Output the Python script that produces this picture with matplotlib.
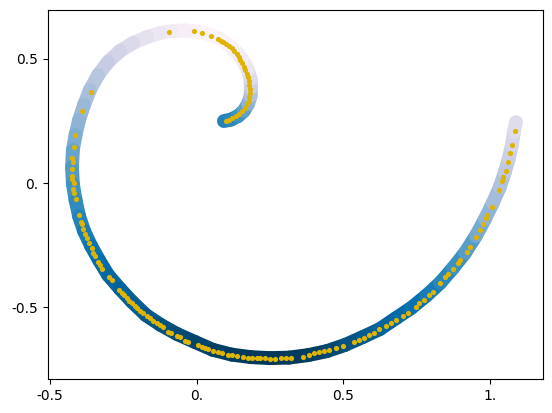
import numpy as np
import matplotlib
matplotlib.use("Agg")
import matplotlib.pyplot as plt
from matplotlib.collections import LineCollection

# centre of the thick band
path_x = [0.093, 0.117, 0.141, 0.161, 0.175, 0.184, 0.185, 0.184, 0.175, 0.158,
          0.138, 0.110, 0.080, 0.042, 0.001, -0.040, -0.084, -0.125, -0.169, -0.217,
          -0.261, -0.302, -0.336, -0.364, -0.384, -0.401, -0.413, -0.422, -0.425, -0.422,
          -0.413, -0.401, -0.384, -0.360, -0.333, -0.302, -0.261, -0.220, -0.173, -0.122,
          -0.067, -0.006, 0.056, 0.120, 0.185, 0.250, 0.315, 0.380, 0.444, 0.506,
          0.567, 0.625, 0.680, 0.731, 0.782, 0.830, 0.874, 0.915, 0.952, 0.983,
          1.010, 1.034, 1.051, 1.065, 1.075, 1.082, 1.089]
path_y = [0.249, 0.255, 0.269, 0.290, 0.318, 0.350, 0.382, 0.418, 0.454, 0.491,
          0.523, 0.555, 0.579, 0.599, 0.609, 0.613, 0.611, 0.603, 0.587, 0.563,
          0.531, 0.487, 0.434, 0.374, 0.314, 0.253, 0.193, 0.133, 0.064, -0.004,
          -0.068, -0.133, -0.193, -0.253, -0.310, -0.370, -0.426, -0.478, -0.531, -0.571,
          -0.607, -0.639, -0.671, -0.690, -0.700, -0.704, -0.702, -0.692, -0.676, -0.651,
          -0.619, -0.587, -0.543, -0.503, -0.454, -0.402, -0.342, -0.281, -0.213, -0.145,
          -0.080, -0.016, 0.044, 0.101, 0.153, 0.205, 0.245]
# colour value along the band (PuBu scale, 0 = lightest)
path_c = [0.68, 0.67, 0.64, 0.58, 0.50, 0.38, 0.30, 0.23, 0.16, 0.11,
          0.07, 0.05, 0.03, 0.03, 0.04, 0.06, 0.08, 0.11, 0.14, 0.18,
          0.22, 0.26, 0.30, 0.35, 0.39, 0.42, 0.45, 0.50, 0.55, 0.59,
          0.62, 0.66, 0.69, 0.72, 0.75, 0.78, 0.81, 0.84, 0.87, 0.90,
          0.92, 0.94, 0.96, 0.98, 0.99, 1.00, 0.99, 0.98, 0.96, 0.92,
          0.88, 0.84, 0.80, 0.76, 0.72, 0.68, 0.64, 0.59, 0.53, 0.46,
          0.40, 0.36, 0.32, 0.28, 0.24, 0.20, 0.17]

# yellow sample points
pts_x = [-0.094, -0.008, 0.019, 0.050, 0.074, 0.083, 0.091, 0.100, 0.110, 0.119,
         0.127, 0.136, 0.143, 0.149, 0.156, 0.161, 0.166, 0.172, 0.175, 0.178,
         0.180, 0.182, 0.182, 0.180, 0.177, 0.172, 0.165, 0.156, 0.146, 0.134,
         0.122, 0.110, 0.100,
         -0.359, -0.390, -0.414, -0.418, -0.424, -0.423, -0.424, -0.424, -0.424, -0.419,
         -0.421, -0.417, -0.412, -0.400, -0.394, -0.392, -0.387, -0.381, -0.375, -0.367,
         -0.358, -0.352, -0.347, -0.335, -0.330, -0.322,
         -0.298, -0.290, -0.264, -0.256, -0.248, -0.239, -0.230, -0.222, -0.210, -0.202,
         -0.193, -0.184, -0.170, -0.159, -0.148, -0.136, -0.125, -0.116, -0.097, -0.089,
         -0.068, -0.057, -0.040, -0.029, 0.006, 0.017, 0.028, 0.040, 0.057, 0.074,
         0.085, 0.108, 0.119, 0.138, 0.159, 0.176, 0.188, 0.205, 0.216, 0.233,
         0.250, 0.267,
         0.287, 0.305, 0.322, 0.361, 0.384, 0.401, 0.418, 0.435, 0.452, 0.475,
         0.498, 0.537, 0.554, 0.571, 0.589, 0.606, 0.623, 0.645, 0.662, 0.680,
         0.702, 0.719, 0.748, 0.759, 0.776, 0.793, 0.805,
         0.830, 0.847, 0.858, 0.873, 0.890, 0.898, 0.923, 0.932, 0.952, 0.966,
         0.977, 0.986, 0.991, 1.006, 1.031, 1.042, 1.045, 1.054, 1.062, 1.070,
         1.076, 1.085]
pts_y = [0.607, 0.610, 0.602, 0.591, 0.579, 0.571, 0.565, 0.559, 0.551, 0.541,
         0.531, 0.519, 0.507, 0.495, 0.483, 0.468, 0.454, 0.440, 0.426, 0.410,
         0.394, 0.378, 0.362, 0.346, 0.330, 0.316, 0.302, 0.290, 0.279, 0.269,
         0.261, 0.255, 0.249,
         0.365, 0.290, 0.192, 0.146, 0.099, 0.083, 0.055, 0.029, 0.016, -0.001,
         -0.025, -0.039, -0.066, -0.129, -0.156, -0.166, -0.186, -0.206, -0.222, -0.242,
         -0.263, -0.280, -0.294, -0.316, -0.330, -0.347,
         -0.379, -0.390, -0.430, -0.441, -0.452, -0.464, -0.473, -0.484, -0.495, -0.504,
         -0.513, -0.524, -0.535, -0.544, -0.554, -0.564, -0.572, -0.580, -0.598, -0.602,
         -0.614, -0.620, -0.634, -0.638, -0.651, -0.658, -0.665, -0.669, -0.676, -0.681,
         -0.685, -0.690, -0.693, -0.696, -0.701, -0.702, -0.704, -0.705, -0.705, -0.705,
         -0.706, -0.706,
         -0.705, -0.705, -0.702, -0.698, -0.692, -0.685, -0.681, -0.676, -0.672, -0.665,
         -0.655, -0.641, -0.631, -0.622, -0.611, -0.602, -0.588, -0.575, -0.564, -0.551,
         -0.535, -0.522, -0.497, -0.484, -0.470, -0.450, -0.437,
         -0.403, -0.379, -0.366, -0.347, -0.323, -0.310, -0.276, -0.256, -0.218, -0.189,
         -0.165, -0.142, -0.129, -0.095, -0.028, 0.008, 0.025, 0.050, 0.083, 0.119,
         0.153, 0.210]

x_ticks = [-0.5, 0.0, 0.5, 1.0]
x_tick_labels = ["-0.5", "0.", "0.5", "1."]
y_ticks = [-0.5, 0.0, 0.5]
y_tick_labels = ["-0.5", "0.", "0.5"]

fig = plt.figure(figsize=(5.52, 4.13), dpi=100)
ax = fig.add_axes([0.0861, 0.0823, 0.8981, 0.8935])

# thick band coloured along its length
xy = np.column_stack([path_x, path_y])
segs = np.stack([xy[:-1], xy[1:]], axis=1)
c = np.array(path_c)
lc = LineCollection(segs, cmap="PuBu", norm=plt.Normalize(0, 1),
                    linewidths=10, capstyle="round", joinstyle="round")
lc.set_array((c[:-1] + c[1:]) / 2)
ax.add_collection(lc)

ax.scatter(pts_x, pts_y, s=14, color="#dfb400", linewidths=0, zorder=3)

ax.set_xlim(-0.5085, 1.182)
ax.set_ylim(-0.788, 0.6956)
ax.set_xticks(x_ticks)
ax.set_xticklabels(x_tick_labels)
ax.set_yticks(y_ticks)
ax.set_yticklabels(y_tick_labels)

fig.savefig("out.png", dpi=100)
